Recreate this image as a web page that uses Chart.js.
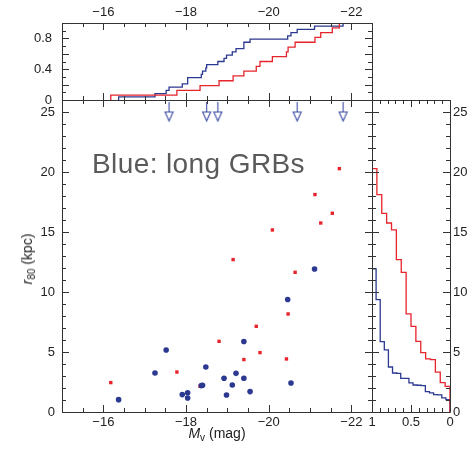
<!DOCTYPE html>
<html>
<head>
<meta charset="utf-8">
<script src="https://cdn.jsdelivr.net/npm/chart.js@4.4.1/dist/chart.umd.min.js"></script>
<style>
html, body { margin: 0; padding: 0; background: #fff; }
#wrap { position: relative; width: 472px; height: 451px; overflow: hidden; font-family: "Liberation Sans", Arial, sans-serif; }
#wrap canvas { position: absolute; left: 0; top: 0; }
.txt { position: absolute; white-space: nowrap; color: #222; }
#note { left: 92px; top: 150px; font-size: 28px; line-height: 28px; letter-spacing: 0.4px; color: #5a5a5a; }
#xTitle { left: 0; width: 434px; top: 425px; text-align: center; font-size: 14px; line-height: 16px; }
#yTitle { left: 27px; top: 259px; font-size: 14px; line-height: 16px; transform: translate(-50%, -50%) rotate(-90deg); }
sub { font-size: 10px; vertical-align: -3px; line-height: 0; }
</style>
</head>
<body>
<div id="wrap">
  <canvas id="topChart" width="472" height="451"></canvas>
  <canvas id="mainChart" width="472" height="451"></canvas>
  <canvas id="sideChart" width="472" height="451"></canvas>
  <div class="txt" id="note">Blue: long GRBs</div>
  <div class="txt" id="xTitle"><i>M</i><sub>v</sub> (mag)</div>
  <div class="txt" id="yTitle"><i>r</i><sub>80</sub> (kpc)</div>
</div>
<script>
/* ================= DATA ================= */
const magTicks = [-16, -18, -20, -22];
const rTicks = [0, 5, 10, 15, 20, 25];
const fracTicks = [0, 0.4, 0.8];
const sideTicks = [1, 0.5, 0];

// long GRBs (blue dots)
const longMag = [-16.37, -17.25, -17.52, -17.91, -18.04, -18.04, -18.37, -18.40, -18.48, -18.92,
                 -18.98, -19.12, -19.21, -19.40, -19.40, -19.55, -20.46, -20.54, -21.11];
const longR   = [1.03, 3.25, 5.17, 1.45, 1.60, 1.17, 2.20, 2.23, 3.75, 2.81,
                 1.42, 2.25, 3.22, 5.87, 2.81, 1.70, 9.37, 2.42, 11.92];

// long GRBs with only an upper limit (arrows)
const limitMag = [-17.59, -18.50, -18.77, -20.69, -21.80];
const limitR   = [25, 25, 25, 25, 25];

// short GRBs (red squares)
const shortMag = [-16.18, -17.78, -18.34, -18.80, -19.14, -19.40, -19.70, -19.79,
                  -20.43, -20.47, -20.64, -20.09, -21.26, -21.12, -21.54, -21.71];
const shortR   = [2.45, 3.33, 2.14, 5.89, 12.70, 4.37, 7.14, 4.95,
                  4.42, 8.17, 11.64, 15.17, 15.75, 18.12, 16.56, 20.28];

const BLUE = "#2c3990";
const RED = "#e6242b";

Chart.defaults.font.family = '"Liberation Sans", Arial, sans-serif';
Chart.defaults.font.size = 13;
Chart.defaults.color = "#222";

/* ================= HELPERS ================= */
const minus = v => String(v).replace("-", "\u2212");
const steps = (a, b, d) => {
    const out = [];
    for (let v = a; v <= b + 1e-9; v += d) out.push(+v.toFixed(3));
    return out;
};
const fixTicks = list => axis => { axis.ticks = list.map(v => ({ value: v })); };

// empirical cumulative distribution as corner points
function cdf(values, ascending) {
    const s = values.slice().sort((a, b) => ascending ? a - b : b - a);
    const n = s.length;
    const pts = [];
    s.forEach((v, i) => {
        pts.push([v, i / n]);
        pts.push([v, (i + 1) / n]);
    });
    return pts;
}

function arrowStyle() {
    const c = document.createElement("canvas");
    c.width = 11; c.height = 20;
    const g = c.getContext("2d");
    g.strokeStyle = "#3d4ca6";
    g.lineWidth = 1.1;
    g.beginPath();
    g.moveTo(5.5, 0); g.lineTo(5.5, 10);
    g.moveTo(1.5, 10); g.lineTo(9.5, 10); g.lineTo(5.5, 19); g.closePath();
    g.stroke();
    return c;
}

/* ================= FRAME + INWARD TICKS ================= */
const framePlugin = {
    id: "frame",
    afterDatasetsDraw(chart, args, o) {
        const { ctx, chartArea: a, scales } = chart;
        const xs = scales.x, ys = scales.y;
        ctx.save();
        ctx.strokeStyle = "#333";
        ctx.lineWidth = 1;
        ctx.beginPath();
        ctx.rect(a.left + 0.5, a.top + 0.5, a.right - a.left, a.bottom - a.top);
        const xt = (list, len) => list.forEach(v => {
            const p = Math.round(xs.getPixelForValue(v)) + 0.5;
            ctx.moveTo(p, a.bottom); ctx.lineTo(p, a.bottom - len);
            ctx.moveTo(p, a.top); ctx.lineTo(p, a.top + len);
        });
        const yt = (list, len) => list.forEach(v => {
            const p = Math.round(ys.getPixelForValue(v)) + 0.5;
            ctx.moveTo(a.left, p); ctx.lineTo(a.left + len, p);
            ctx.moveTo(a.right, p); ctx.lineTo(a.right - len, p);
        });
        xt(o.xMinor, 4); xt(o.xMajor, 7);
        yt(o.yMinor, 4); yt(o.yMajor, 7);
        ctx.stroke();
        ctx.restore();
    }
};

const lineSet = (pts, color, swap) => ({
    data: pts.map(p => swap ? { x: p[1], y: p[0] } : { x: p[0], y: p[1] }),
    showLine: true,
    borderColor: color,
    borderWidth: 1.3,
    pointRadius: 0,
    fill: false
});

const base = (padding) => ({
    responsive: false,
    animation: false,
    devicePixelRatio: 1,
    layout: { padding },
    plugins: { legend: { display: false }, tooltip: { enabled: false } }
});

/* ================= TOP: CDF OF MAGNITUDE ================= */
const topOpts = base({ left: 0, right: 100, top: 0, bottom: 351 });
topOpts.scales = {
    x: {
        type: "linear", position: "top", min: -22.5, max: -15, reverse: true,
        afterBuildTicks: fixTicks(magTicks),
        afterFit: s => { s.height = 23; },
        grid: { display: false, drawTicks: false }, border: { display: false },
        ticks: { padding: 3, callback: minus, maxRotation: 0 }
    },
    y: {
        type: "linear", min: 0, max: 1,
        afterBuildTicks: fixTicks(fracTicks),
        afterFit: s => { s.width = 62; },
        grid: { display: false, drawTicks: false }, border: { display: false },
        ticks: { padding: 10, callback: v => String(v) }
    }
};
topOpts.plugins.frame = {
    xMajor: magTicks, xMinor: steps(-22.5, -15, 0.5),
    yMajor: steps(0, 1, 0.2), yMinor: steps(0, 1, 0.1)
};
new Chart(document.getElementById("topChart"), {
    type: "scatter",
    data: {
        datasets: [
            lineSet(cdf(shortMag, false), RED, false),
            lineSet(cdf(longMag.concat(limitMag), false), BLUE, false)
        ]
    },
    options: topOpts,
    plugins: [framePlugin]
});

/* ================= MAIN: r80 vs Mv ================= */
const mainOpts = base({ left: 0, right: 100, top: 100, bottom: 0 });
mainOpts.scales = {
    x: {
        type: "linear", position: "bottom", min: -22.5, max: -15, reverse: true,
        afterBuildTicks: fixTicks(magTicks),
        afterFit: s => { s.height = 39; },
        grid: { display: false, drawTicks: false }, border: { display: false },
        ticks: { padding: 3, callback: minus, maxRotation: 0 }
    },
    y: {
        type: "linear", min: 0, max: 26,
        afterBuildTicks: fixTicks(rTicks),
        afterFit: s => { s.width = 62; },
        grid: { display: false, drawTicks: false }, border: { display: false },
        ticks: { padding: 7 }
    }
};
mainOpts.plugins.frame = {
    xMajor: magTicks, xMinor: steps(-22.5, -15, 0.5),
    yMajor: rTicks, yMinor: steps(0, 26, 1)
};
new Chart(document.getElementById("mainChart"), {
    type: "scatter",
    data: {
        datasets: [
            {
                data: longMag.map((m, i) => ({ x: m, y: longR[i] })),
                pointStyle: "circle", pointRadius: 2.8,
                backgroundColor: BLUE, borderColor: BLUE, borderWidth: 0
            },
            {
                data: limitMag.map((m, i) => ({ x: m, y: limitR[i] })),
                pointStyle: arrowStyle()
            },
            {
                data: shortMag.map((m, i) => ({ x: m, y: shortR[i] })),
                pointStyle: "rect", pointRadius: 2.4,
                backgroundColor: RED, borderColor: RED, borderWidth: 0
            }
        ]
    },
    options: mainOpts,
    plugins: [framePlugin]
});

/* ================= SIDE: CDF OF r80 ================= */
const sideOpts = base({ left: 372, right: 0, top: 100, bottom: 0 });
sideOpts.scales = {
    x: {
        type: "linear", position: "bottom", min: 0, max: 1, reverse: true,
        afterBuildTicks: fixTicks(sideTicks),
        afterFit: s => { s.height = 39; },
        grid: { display: false, drawTicks: false }, border: { display: false },
        ticks: { padding: 3, maxRotation: 0, callback: v => String(v) }
    },
    y: {
        type: "linear", position: "right", min: 0, max: 26,
        afterBuildTicks: fixTicks(rTicks),
        afterFit: s => { s.width = 22; },
        grid: { display: false, drawTicks: false }, border: { display: false },
        ticks: { padding: 3 }
    }
};
sideOpts.plugins.frame = {
    xMajor: [0, 0.5, 1], xMinor: steps(0, 1, 0.1),
    yMajor: rTicks, yMinor: steps(0, 26, 1)
};
new Chart(document.getElementById("sideChart"), {
    type: "scatter",
    data: {
        datasets: [
            lineSet([[0, 0]].concat(cdf(shortR, true)), RED, true),
            lineSet([[0, 0]].concat(cdf(longR, true)), BLUE, true)
        ]
    },
    options: sideOpts,
    plugins: [framePlugin]
});
</script>
</body>
</html>
